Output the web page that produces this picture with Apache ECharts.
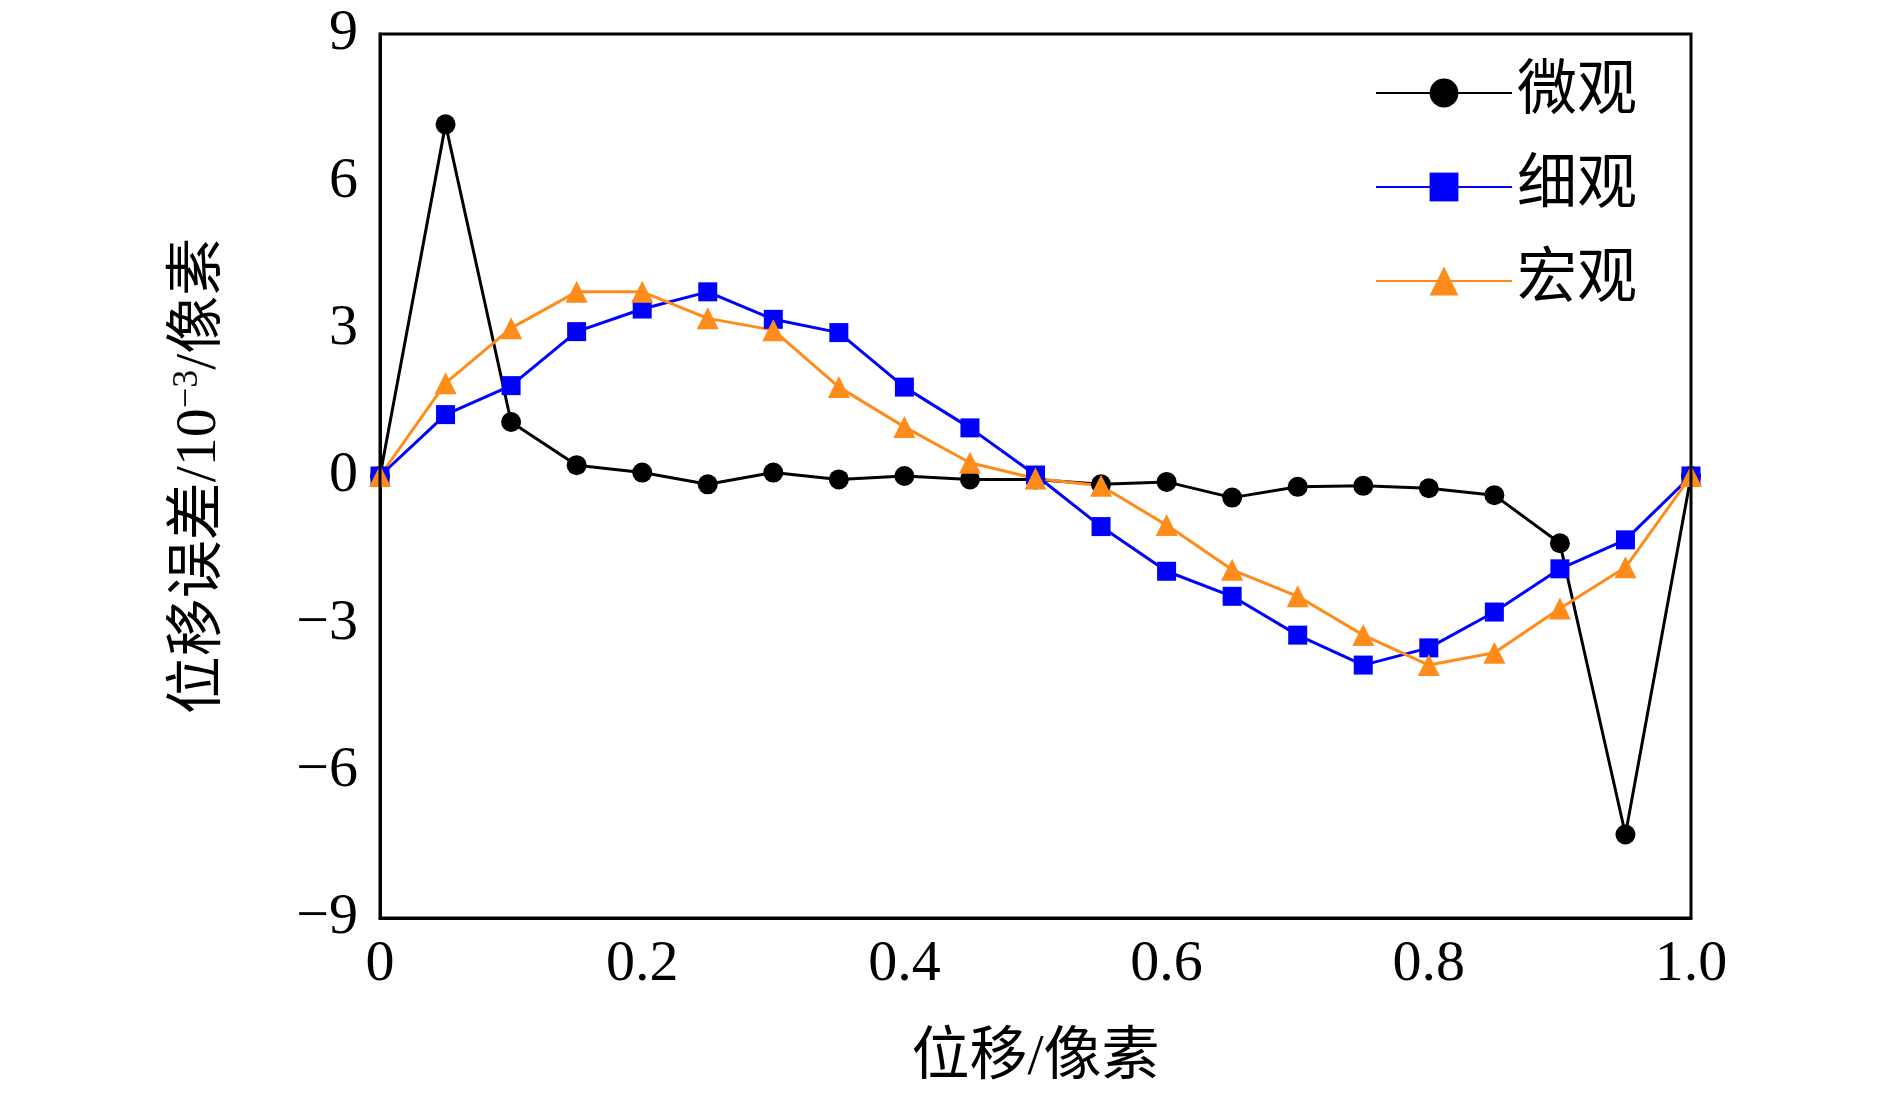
<!DOCTYPE html>
<html><head><meta charset="utf-8">
<script src="https://cdn.jsdelivr.net/npm/echarts@6/dist/echarts.min.js"></script>
<style>html,body{margin:0;background:#fff}#main{width:1890px;height:1113px}</style>
</head><body><div id="main"></div>
<script>
var xs = [0,0.05,0.1,0.15,0.2,0.25,0.3,0.35,0.4,0.45,0.5,0.55,0.6,0.65,0.7,0.75,0.8,0.85,0.9,0.95,1.0];
var micro = [0,7.16,1.1,0.22,0.07,-0.17,0.07,-0.07,0,-0.07,-0.07,-0.17,-0.12,-0.44,-0.22,-0.2,-0.25,-0.39,-1.37,-7.3,0];
var fine = [0,1.25,1.84,2.94,3.4,3.75,3.19,2.92,1.81,0.98,0.02,-1.03,-1.94,-2.45,-3.24,-3.85,-3.5,-2.77,-1.89,-1.3,0];
var macro = [0,1.89,3.01,3.75,3.75,3.21,2.97,1.81,1.0,0.27,-0.05,-0.2,-1.0,-1.91,-2.45,-3.24,-3.85,-3.6,-2.7,-1.86,0];
var names = ['微观','细观','宏观'];

function pairs(v){ return xs.map(function(x,i){ return [x, v[i]]; }); }
var font = '"Liberation Serif","Noto Sans CJK SC",serif';
var myChart = echarts.init(document.getElementById('main'));
myChart.setOption({
  animation:false,
  grid:{left:380,right:199,top:34,bottom:195},
  legend:{
    orient:'vertical', left:1370, top:58, itemGap:34,
    itemWidth:136, itemHeight:36,
    textStyle:{fontSize:60,fontFamily:font,color:'#000'},
    data:names
  },
  xAxis:{
    type:'value', min:0, max:1, interval:0.2,
    name:'位移/像素', nameLocation:'middle', nameGap:112,
    nameTextStyle:{fontSize:58,fontFamily:font,color:'#000'},
    axisLine:{onZero:false,lineStyle:{color:'#000',width:3}},
    axisTick:{show:false},
    splitLine:{show:false},
    axisLabel:{fontSize:58,fontFamily:font,color:'#000',margin:18,
      formatter:function(v){ return v===0?'0':v.toFixed(1); }}
  },
  yAxis:{
    type:'value', min:-9, max:9, interval:3,
    name:'位移误差/10{sup|−3}/像素', nameLocation:'middle', nameGap:150, nameRotate:90,
    nameTextStyle:{fontSize:58,fontFamily:font,color:'#000',
      rich:{sup:{fontSize:36,fontFamily:font,color:'#000',verticalAlign:'top',padding:[0,0,24,0]}}},
    axisLine:{show:true,onZero:false,lineStyle:{color:'#000',width:3}},
    axisTick:{show:false},
    splitLine:{show:false},
    axisLabel:{fontSize:58,fontFamily:font,color:'#000',margin:22,
      formatter:function(v){ return v<0?'−'+(-v):String(v); }}
  },
  series:[
    {name:names[0],type:'line',data:pairs(micro),symbol:'circle',symbolSize:20,
     lineStyle:{color:'#000',width:3},itemStyle:{color:'#000'}},
    {name:names[1],type:'line',data:pairs(fine),symbol:'rect',symbolSize:19,
     lineStyle:{color:'#0000ff',width:3},itemStyle:{color:'#0000ff'}},
    {name:names[2],type:'line',data:pairs(macro),symbol:'triangle',symbolSize:22,
     lineStyle:{color:'#ff8c1a',width:3},itemStyle:{color:'#ff8c1a'}}
  ],
  graphic:[{type:'rect',shape:{x:380,y:34,width:1311,height:884},
    style:{fill:'none',stroke:'#000',lineWidth:3},silent:true,z:10}]
});
</script></body></html>
